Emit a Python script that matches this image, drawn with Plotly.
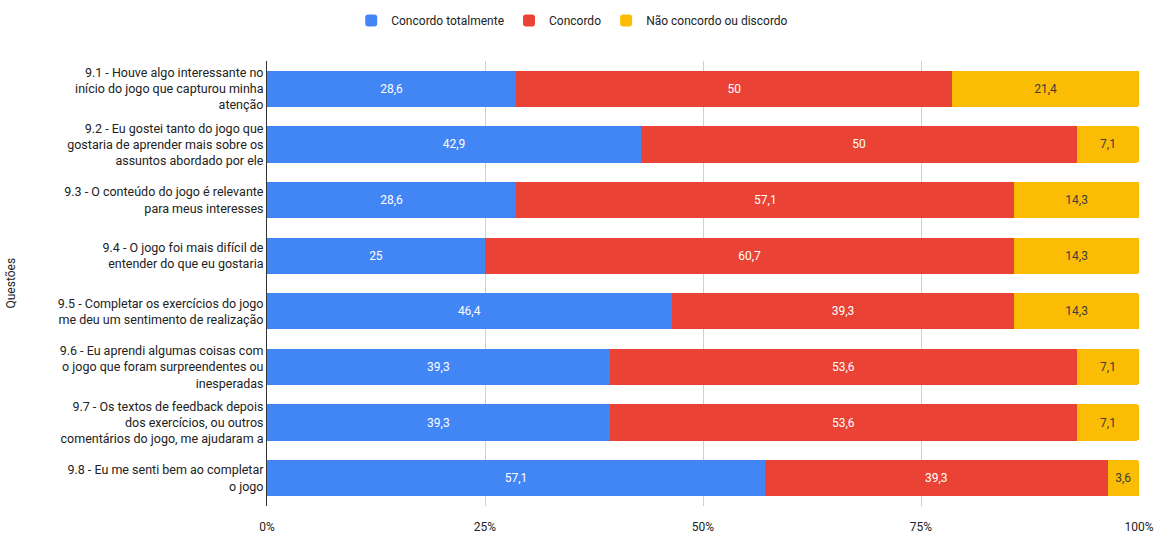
import plotly.graph_objects as go

questions = [
    "9.1 - Houve algo interessante no<br>início do jogo que capturou minha<br>atenção",
    "9.2 - Eu gostei tanto do jogo que<br>gostaria de aprender mais sobre os<br>assuntos abordado por ele",
    "9.3 - O conteúdo do jogo é relevante<br>para meus interesses",
    "9.4 - O jogo foi mais difícil de<br>entender do que eu gostaria",
    "9.5 - Completar os exercícios do jogo<br>me deu um sentimento de realização",
    "9.6 - Eu aprendi algumas coisas com<br>o jogo que foram surpreendentes ou<br>inesperadas",
    "9.7 - Os textos de feedback depois<br>dos exercícios, ou outros<br>comentários do jogo, me ajudaram a",
    "9.8 - Eu me senti bem ao completar<br>o jogo",
]
concordo_totalmente = [28.6, 42.9, 28.6, 25, 46.4, 39.3, 39.3, 57.1]
concordo = [50, 50, 57.1, 60.7, 39.3, 53.6, 53.6, 39.3]
nao_concordo = [21.4, 7.1, 14.3, 14.3, 14.3, 7.1, 7.1, 3.6]
series_names = ["Concordo totalmente", "Concordo", "Não concordo ou discordo"]
tick_vals = [0, 25, 50, 75, 100]
tick_text = ["0%", "25%", "50%", "75%", "100%"]

colors = ["#4285F4", "#EA4335", "#FBBC04"]
text_colors = ["#FFFFFF", "#FFFFFF", "#3c3c3c"]
FONT = "Roboto, Liberation Sans, sans-serif"

W, H = 1156, 536
L, R, T, B = 267, 17, 61, 30

def fmt(v):
    return ("%g" % v).replace(".", ",")

fig = go.Figure()
for name, vals, c, tc in zip(series_names, [concordo_totalmente, concordo, nao_concordo], colors, text_colors):
    fig.add_trace(go.Bar(
        y=questions, x=vals, name=name, orientation="h",
        marker=dict(color=c, line=dict(width=0)),
        text=[fmt(v) for v in vals], textposition="inside",
        insidetextanchor="middle",
        textfont=dict(color=tc, size=12, family=FONT),
        hoverinfo="skip",
    ))

fig.add_annotation(
    text="Questões", xref="paper", yref="paper",
    x=(10 - L) / (W - L - R), y=0.5, textangle=-90,
    showarrow=False, xanchor="center", yanchor="middle",
    font=dict(size=12, color="#222222", family=FONT),
)

fig.update_layout(
    barmode="stack",
    bargap=0.35,
    barcornerradius=2,
    width=W, height=H,
    margin=dict(l=L, r=R, t=T, b=B, autoexpand=False),
    paper_bgcolor="white", plot_bgcolor="white",
    font=dict(family=FONT, size=12, color="#222222"),
    showlegend=True,
    legend=dict(orientation="h", xref="container", x=0.495, xanchor="center",
                yref="container", y=0.989, yanchor="top",
                font=dict(size=12, color="#222222"),
                traceorder="normal"),
    xaxis=dict(range=[0, 100], tickvals=tick_vals, ticktext=tick_text,
               showgrid=True, gridcolor="#d0d0d0", gridwidth=1,
               zeroline=False, showline=False, ticks="", automargin=False,
               ticklabelstandoff=12,
               tickfont=dict(size=12, color="#222222")),
    yaxis=dict(autorange="reversed", showgrid=False, ticks="", automargin=False,
               tickfont=dict(size=12.5, color="#222222"),
               showline=True, linecolor="#333333", linewidth=1),
)
fig.write_html("out.html", config={"displayModeBar": False},
               post_script="document.body.style.margin='0';document.body.style.overflow='hidden';")
